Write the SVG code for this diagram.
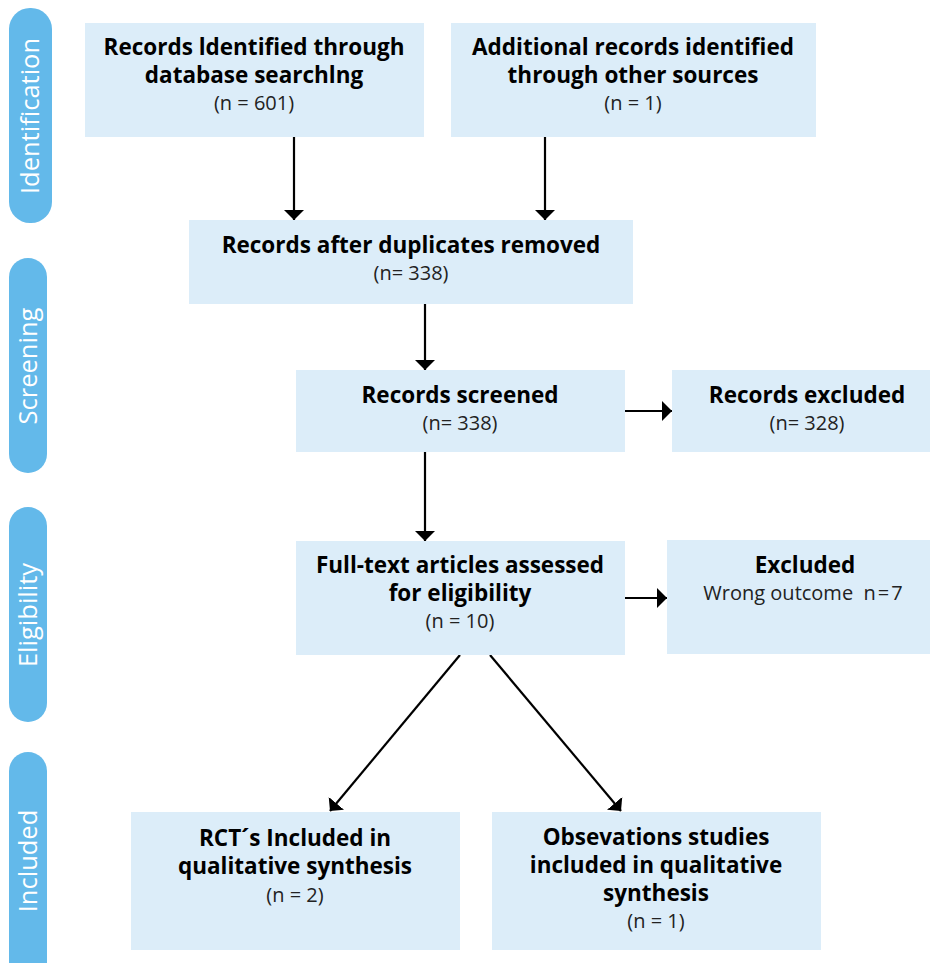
<svg xmlns="http://www.w3.org/2000/svg" width="930" height="963" viewBox="0 0 930 963">
<style>
.box{fill:#dcedf9}
.pill{fill:#63b9ea}
.b{font-family:"Open Sans","Noto Sans","Liberation Sans",sans-serif;font-weight:bold;font-size:22.5px;fill:#000;text-anchor:middle}
.n{font-family:"Open Sans","Noto Sans","Liberation Sans",sans-serif;font-size:20px;fill:#222;text-anchor:middle;white-space:pre}
.side{font-family:"Open Sans","Noto Sans","Liberation Sans",sans-serif;font-size:25.5px;fill:#fff;text-anchor:middle}
.con{stroke:#000;stroke-width:2.2;fill:none}
</style>
<defs>
<marker id="ah" viewBox="0 0 10 20" refX="10" refY="10" markerWidth="10" markerHeight="20" markerUnits="userSpaceOnUse" orient="auto">
<path d="M0,0 L10,10 L0,20 z" fill="#000"/>
</marker>
</defs>
<rect width="930" height="963" fill="#fff"/>
<g id="phases">
<g id="phase-identification"><rect class="pill" x="9" y="8" width="43" height="215" rx="21"/><text class="side" transform="translate(38.5,116) rotate(-90)">Identification</text></g>
<g id="phase-screening"><rect class="pill" x="9" y="258" width="38" height="215" rx="19"/><text class="side" transform="translate(37,366) rotate(-90)">Screening</text></g>
<g id="phase-eligibility"><rect class="pill" x="9" y="507" width="38" height="215" rx="19"/><text class="side" transform="translate(37,615) rotate(-90)">Eligibility</text></g>
<g id="phase-included"><rect class="pill" x="9" y="752" width="38" height="240" rx="19"/><text class="side" transform="translate(37,861) rotate(-90)">Included</text></g>
</g>
<g id="connectors">
<line class="con" x1="294" y1="137" x2="294" y2="220" marker-end="url(#ah)"/>
<line class="con" x1="545" y1="137" x2="545" y2="220" marker-end="url(#ah)"/>
<line class="con" x1="425" y1="304" x2="425" y2="370" marker-end="url(#ah)"/>
<line class="con" x1="425" y1="452" x2="425" y2="541" marker-end="url(#ah)"/>
<line class="con" x1="625" y1="411" x2="672" y2="411" marker-end="url(#ah)"/>
<line class="con" x1="624" y1="598" x2="667" y2="598" marker-end="url(#ah)"/>
<line class="con" x1="460" y1="655" x2="330" y2="811" marker-end="url(#ah)"/>
<line class="con" x1="490" y1="655" x2="621" y2="811" marker-end="url(#ah)"/>
</g>
<g id="node-db">
<rect class="box" x="85" y="23" width="339" height="114"/>
<text class="b" x="254" y="55">Records ldentified through</text>
<text class="b" x="254" y="83">database searchlng</text>
<text class="n" x="254" y="110">(n = 601)</text>
</g>
<g id="node-other">
<rect class="box" x="451" y="23" width="365" height="114"/>
<text class="b" x="633" y="55">Additional records identified</text>
<text class="b" x="633" y="83">through other sources</text>
<text class="n" x="633" y="110">(n = 1)</text>
</g>
<g id="node-dup">
<rect class="box" x="189" y="220" width="444" height="84"/>
<text class="b" x="411" y="253">Records after duplicates removed</text>
<text class="n" x="411" y="280">(n= 338)</text>
</g>
<g id="node-screened">
<rect class="box" x="296" y="370" width="329" height="82"/>
<text class="b" x="460" y="403">Records screened</text>
<text class="n" x="460" y="430">(n= 338)</text>
</g>
<g id="node-excl1">
<rect class="box" x="672" y="370" width="258" height="82"/>
<text class="b" x="807" y="403">Records excluded</text>
<text class="n" x="807" y="430">(n= 328)</text>
</g>
<g id="node-fulltext">
<rect class="box" x="296" y="541" width="329" height="114"/>
<text class="b" x="460" y="573">Full-text articles assessed</text>
<text class="b" x="460" y="601">for eligibility</text>
<text class="n" x="460" y="628">(n = 10)</text>
</g>
<g id="node-excl2">
<rect class="box" x="667" y="540" width="263" height="114"/>
<text class="b" x="805" y="573">Excluded</text>
<text class="n" x="804" y="600">Wrong outcome  <tspan letter-spacing="2">n=7</tspan></text>
</g>
<g id="node-rct">
<rect class="box" x="131" y="812" width="329" height="138"/>
<text class="b" x="295" y="846">RCT´s Included in</text>
<text class="b" x="295" y="874">qualitative synthesis</text>
<text class="n" x="295" y="902">(n = 2)</text>
</g>
<g id="node-obs">
<rect class="box" x="492" y="812" width="329" height="138"/>
<text class="b" x="656" y="845">Obsevations studies</text>
<text class="b" x="656" y="873">included in qualitative</text>
<text class="b" x="656" y="901">synthesis</text>
<text class="n" x="656" y="928">(n = 1)</text>
</g>
</svg>
